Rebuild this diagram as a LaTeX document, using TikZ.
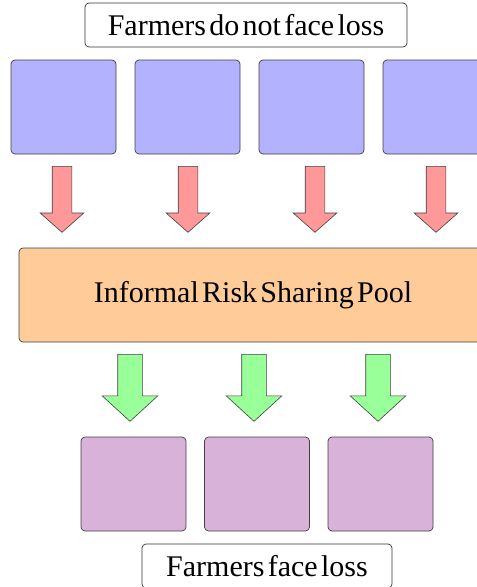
\documentclass[tikz,border=0pt]{standalone}
\usepackage{fontspec}
\setmainfont{Liberation Serif}
\usepackage{tikz}
\usetikzlibrary{arrows.meta,positioning,calc,shapes.arrows}

\newcommand{\bigtext}{\fontsize{30}{36}\selectfont}
\newcommand{\tight}[1]{{\spaceskip=3.3pt plus 1pt\relax #1}}

\tikzset{
    farmer/.style={draw=black!75, line width=0.7pt, rounded corners=4pt,
        minimum width=105pt, minimum height=94pt, inner sep=0pt},
    caption/.style={draw=black!80, line width=0.7pt, rounded corners=4pt,
        minimum height=44pt, inner sep=0pt, font=\bigtext},
    lossarrow/.style={single arrow, draw=black!75, line width=0.6pt, fill=red!40,
        shape border rotate=270, inner sep=9.5pt, minimum width=0pt,
        single arrow head extend=12pt, single arrow tip angle=97,
        single arrow head indent=0pt, minimum height=66pt, anchor=tail},
    payarrow/.style={single arrow, draw=black!75, line width=0.6pt, fill=green!40,
        shape border rotate=270, inner sep=12pt, minimum width=0pt,
        single arrow head extend=15.5pt, single arrow tip angle=95,
        single arrow head indent=0pt, minimum height=67pt, anchor=tail}
}

\begin{document}
\begin{tikzpicture}[x=1pt,y=-1pt]
        \useasboundingbox (0,0) rectangle (477,587);
        \clip (0,0) rectangle (477,587);

        % Top caption
        \node[caption, minimum width=322pt] (noloss) at (246,25) {\tight{Farmers do not face loss}};

        % Farmers who do not face loss
        \node[farmer, fill=blue!30] (safe1) at (63.5,107) {};
        \node[farmer, fill=blue!30] (safe2) at (187.5,107) {};
        \node[farmer, fill=blue!30] (safe3) at (311.5,107) {};
        \node[farmer, fill=blue!30] (safe4) at (435.5,107) {};

        % Contributions into the pool
        \node[lossarrow] (give1) at (62,166) {};
        \node[lossarrow] (give2) at (188,166) {};
        \node[lossarrow] (give3) at (315,166) {};
        \node[lossarrow] (give4) at (436,166) {};

        % Pool
        \node[farmer, fill=orange!40, minimum width=468pt, font=\bigtext] (pool) at (253,295) {\tight{Informal Risk Sharing Pool}};

        % Transfers out of the pool
        \node[payarrow] (take1) at (130,354) {};
        \node[payarrow] (take2) at (254,354) {};
        \node[payarrow] (take3) at (378,354) {};

        % Farmers who face loss
        \node[farmer, fill=violet!30] (hit1) at (133.5,484) {};
        \node[farmer, fill=violet!30] (hit2) at (257,484) {};
        \node[farmer, fill=violet!30] (hit3) at (380.5,484) {};

        % Bottom caption
        \node[caption, minimum width=250pt] (loss) at (267,566) {\tight{Farmers face loss}};
    \end{tikzpicture}
\end{document}
